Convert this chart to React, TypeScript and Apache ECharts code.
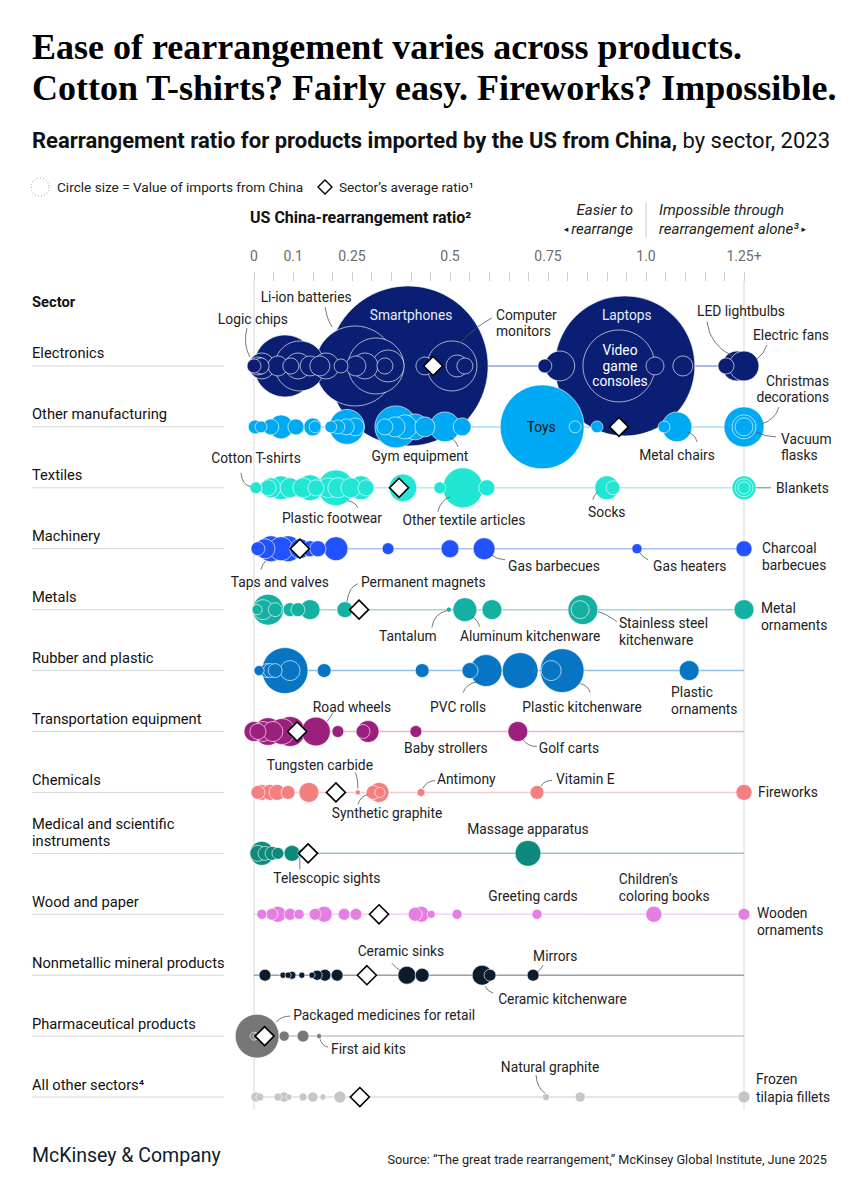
import React, { useEffect, useRef } from "react";
import * as echarts from "echarts";

// ---------- DATA ----------
type Bubble = [number, number, string?]; // [rearrangement ratio, imports from China ($B), product]

const sectors = [
  "Electronics",
  "Other manufacturing",
  "Textiles",
  "Machinery",
  "Metals",
  "Rubber and plastic",
  "Transportation equipment",
  "Chemicals",
  "Medical and scientific instruments",
  "Wood and paper",
  "Nonmetallic mineral products",
  "Pharmaceutical products",
  "All other sectors⁴",
];
const sectorDisplay = [
  "Electronics",
  "Other manufacturing",
  "Textiles",
  "Machinery",
  "Metals",
  "Rubber and plastic",
  "Transportation equipment",
  "Chemicals",
  "Medical and scientific\ninstruments",
  "Wood and paper",
  "Nonmetallic mineral products",
  "Pharmaceutical products",
  "All other sectors⁴",
];

const averageRatio: (number | null)[] = [0.457, 0.931, 0.37, 0.117, 0.268, null, 0.11, 0.209, 0.138, 0.319, 0.288, 0.027, 0.27];

const electronics: Bubble[] = [
  [0.0, 0.3], [0.01, 0.5, "Logic chips"], [0.018, 0.4], [0.02, 1.05], [0.061, 0.62], [0.079, 6.0], [0.094, 0.4],
  [0.112, 1.05], [0.117, 3.9], [0.143, 0.62], [0.168, 0.62], [0.184, 1.05], [0.222, 0.3], [0.258, 10, "Li-ion batteries"],
  [0.26, 0.62], [0.283, 1.05], [0.311, 4.9], [0.334, 0.4], [0.342, 1.6], [0.393, 40, "Smartphones"], [0.436, 0.5],
  [0.505, 3.9, "Computer\nmonitors"], [0.518, 0.75], [0.538, 0.4], [0.742, 0.3], [0.78, 1.4], [0.946, 30.6, "Laptops"],
  [0.931, 8.1, "Video\ngame\nconsoles"], [1.023, 0.5], [1.094, 0.62], [1.204, 0.4, "LED lightbulbs"], [1.232, 1.4],
  [1.25, 1.4, "Electric fans"],
];
const otherManufacturing: Bubble[] = [
  [0.003, 0.3], [0.018, 0.22], [0.043, 0.4], [0.069, 0.9], [0.107, 0.4], [0.15, 0.5], [0.156, 0.22], [0.196, 0.22],
  [0.214, 0.3], [0.235, 0.4], [0.237, 1.9], [0.258, 0.5], [0.334, 0.4], [0.36, 0.62], [0.362, 2.75], [0.385, 0.9],
  [0.411, 1.05], [0.436, 0.62], [0.487, 1.4, "Gym equipment"], [0.531, 0.5], [0.735, 11, "Toys"], [0.819, 0.22],
  [0.875, 0.22], [1.046, 0.22], [1.079, 1.4, "Metal chairs"], [1.25, 2.5, "Christmas\ndecorations"],
  [1.25, 0.9, "Vacuum\nflasks"], [1.25, 0.5],
];
const textiles: Bubble[] = [
  [0.005, 0.22, "Cotton T-shirts"], [0.036, 0.4], [0.043, 0.62], [0.069, 0.9], [0.092, 0.62], [0.125, 0.62], [0.143, 1.05],
  [0.158, 0.4], [0.189, 0.62], [0.209, 2.0, "Plastic footwear"], [0.214, 0.62], [0.247, 0.62], [0.273, 0.9], [0.286, 0.4],
  [0.38, 1.2], [0.474, 0.22], [0.533, 2.5, "Other textile articles"], [0.594, 0.4], [0.9, 0.9, "Socks"], [0.916, 0.3],
  [1.25, 0.9, "Blankets"], [1.25, 0.5], [1.25, 0.22],
];
const machinery: Bubble[] = [
  [0.01, 0.3], [0.028, 0.62], [0.043, 1.05, "Taps and valves"], [0.069, 0.9], [0.087, 1.05], [0.117, 0.62], [0.143, 0.4],
  [0.163, 0.4], [0.209, 0.9], [0.342, 0.22], [0.5, 0.5], [0.587, 0.75, "Gas barbecues"], [0.977, 0.16, "Gas heaters"],
  [1.25, 0.4, "Charcoal\nbarbecues"],
];
const metals: Bubble[] = [
  [0.008, 0.16], [0.023, 0.62], [0.036, 1.5], [0.054, 0.3], [0.092, 0.3], [0.112, 0.3], [0.143, 0.62],
  [0.232, 0.4, "Permanent magnets"], [0.497, 0.04, "Tantalum"], [0.538, 0.9, "Aluminum kitchenware"], [0.607, 0.62],
  [0.839, 1.4, "Stainless steel\nkitchenware"], [0.832, 0.5], [1.25, 0.62, "Metal\nornaments"],
];
const rubberPlastic: Bubble[] = [
  [0.013, 0.16], [0.033, 0.3], [0.041, 0.3], [0.054, 0.3], [0.079, 3.3], [0.092, 0.62], [0.179, 0.3], [0.429, 0.3],
  [0.551, 0.4], [0.592, 1.6, "PVC rolls"], [0.679, 2.0], [0.786, 3.0, "Plastic kitchenware"], [0.758, 0.62],
  [1.11, 0.62, "Plastic\nornaments"],
];
const transportation: Bubble[] = [
  [0.0, 0.62], [0.01, 0.4], [0.023, 0.62], [0.036, 1.2], [0.048, 0.62], [0.071, 1.05], [0.092, 1.4],
  [0.158, 1.3, "Road wheels"], [0.214, 0.22], [0.291, 0.75], [0.278, 0.3], [0.413, 0.22, "Baby strollers"],
  [0.673, 0.62, "Golf carts"],
];
const chemicals: Bubble[] = [
  [0.01, 0.3], [0.02, 0.4], [0.041, 0.4], [0.059, 0.4], [0.087, 0.3], [0.14, 0.62], [0.265, 0.04, "Tungsten carbide"],
  [0.304, 0.3], [0.319, 0.62, "Synthetic graphite"], [0.321, 0.16], [0.426, 0.1, "Antimony"], [0.722, 0.3, "Vitamin E"],
  [1.25, 0.4, "Fireworks"],
];
const medical: Bubble[] = [
  [0.01, 0.4], [0.02, 0.9], [0.028, 0.3], [0.046, 0.3], [0.061, 0.22], [0.097, 0.4], [0.122, 0.1, "Telescopic sights"],
  [0.699, 1.05, "Massage apparatus"],
];
const woodPaper: Bubble[] = [
  [0.02, 0.16], [0.046, 0.22], [0.061, 0.4], [0.092, 0.22], [0.115, 0.16], [0.156, 0.22], [0.179, 0.4], [0.23, 0.22],
  [0.26, 0.22], [0.411, 0.3], [0.426, 0.4], [0.452, 0.1], [0.518, 0.16], [0.722, 0.16, "Greeting cards"],
  [1.02, 0.4, "Children’s\ncoloring books"], [1.25, 0.22, "Wooden\nornaments"],
];
const nonmetallic: Bubble[] = [
  [0.028, 0.22], [0.074, 0.06], [0.087, 0.06], [0.097, 0.1], [0.122, 0.06], [0.148, 0.06], [0.161, 0.16], [0.181, 0.22],
  [0.212, 0.22], [0.39, 0.5, "Ceramic sinks"], [0.429, 0.3], [0.582, 0.62, "Ceramic kitchenware"], [0.602, 0.22],
  [0.712, 0.22, "Mirrors"],
];
const pharmaceutical: Bubble[] = [
  [0.008, 3.0, "Packaged medicines for retail"], [0.0, 0.1], [0.005, 0.06], [0.077, 0.16], [0.125, 0.22],
  [0.166, 0.04, "First aid kits"],
];
const allOther: Bubble[] = [
  [0.005, 0.16], [0.015, 0.1], [0.061, 0.1], [0.077, 0.16], [0.089, 0.06], [0.125, 0.1], [0.15, 0.16], [0.176, 0.06],
  [0.219, 0.22], [0.745, 0.08, "Natural graphite"], [0.832, 0.16], [1.25, 0.22, "Frozen\ntilapia fillets"],
];

const sectorBubbles = [
  electronics, otherManufacturing, textiles, machinery, metals, rubberPlastic, transportation,
  chemicals, medical, woodPaper, nonmetallic, pharmaceutical, allOther,
];

const tickValues = [0, 0.1, 0.25, 0.5, 0.75, 1, 1.25];
const tickLabels = ["0", "0.1", "0.25", "0.5", "0.75", "1.0", "1.25+"];

// ---------- STYLE / LAYOUT ----------
const F = "Roboto, 'Noto Sans', sans-serif";
const SERIF = "'Liberation Serif', 'DejaVu Serif', serif";
const K = 12.65; // radius px per sqrt($B)
const ANN_FONT = `13.8px ${F}`;

const COLORS = [
  "#0a1e73", "#00a9f4", "#22e6d4", "#2251ff", "#14b1a3", "#0775c4", "#9b1f7c",
  "#f28080", "#0d8a7d", "#e47ee2", "#0b1c2c", "#777777", "#c6c6c6",
];
const LINE_COLORS = [
  "#95a1d8", "#a3ddf8", "#a6f0e9", "#aebdff", "#98dcd5", "#93bfe3", "#e2b6d6",
  "#f8cccc", "#8ec8c0", "#f6cef4", "#97a0aa", "#c4c4c4", "#dedede",
];

type Ann = { dx: number; dy: number; align: "left" | "center" | "right"; color?: string; lh?: number; leader?: number[] };
const annLayout: Record<string, Ann> = {
  "Logic chips": { dx: -5, dy: -47, align: "center", leader: [-11, -38, -15, -21, -8, -9] },
  "Li-ion batteries": { dx: -49, dy: -69, align: "center", leader: [-30, -59, -28, -46, -23, -39] },
  Smartphones: { dx: 3, dy: -51, align: "center", color: "#e8ecf8" },
  "Computer\nmonitors": { dx: 44, dy: -43, align: "left", lh: 15.5, leader: [40, -48, 23, -39, 8, -23] },
  Laptops: { dx: 2, dy: -51, align: "center", color: "#e8ecf8" },
  "Video\ngame\nconsoles": { dx: 1, dy: 0, align: "center", color: "#ffffff", lh: 15.5 },
  "LED lightbulbs": { dx: 15, dy: -55, align: "center", leader: [-19, -44, -16, -21, 6, -10] },
  "Electric fans": { dx: 9, dy: -31, align: "left", leader: [23, -21, 20, -12, 13, -7] },
  Toys: { dx: -1, dy: 0, align: "center", color: "#111" },
  "Gym equipment": { dx: -25, dy: 29, align: "center", leader: [13, 20, 11, 13, 4, 10] },
  "Metal chairs": { dx: 0, dy: 28, align: "center", leader: [20, 15, 18, 7, 10, 5] },
  "Christmas\ndecorations": { dx: 85, dy: -38, align: "right", leader: [35, -20, 31, -7, 18, -3] },
  "Vacuum\nflasks": { dx: 37, dy: 20, align: "left", leader: [32, 10, 21, 10, 12, 5] },
  "Cotton T-shirts": { dx: 0, dy: -30, align: "center", leader: [-15, -15, -14, -3, -5, -1] },
  "Plastic footwear": { dx: -4, dy: 30, align: "center", leader: [22, 20, 19, 14, 12, 13] },
  "Other textile articles": { dx: 1, dy: 32, align: "center", leader: [-25, 24, -23, 13, -13, 9] },
  Socks: { dx: 0, dy: 24, align: "center", leader: [-14, 12, -13, 7, -9, 4] },
  Blankets: { dx: 32, dy: 0, align: "left", leader: [27, 0, 12, 0] },
  "Taps and valves": { dx: 9, dy: 33, align: "center", leader: [-10, 21, -9, 16, -5, 12] },
  "Gas barbecues": { dx: 24, dy: 17, align: "left", leader: [21, 11, 13, 11, 7, 6] },
  "Gas heaters": { dx: 16, dy: 17, align: "left", leader: [11, 11, 6, 9, 3, 4] },
  "Charcoal\nbarbecues": { dx: 18, dy: 8, align: "left" },
  "Permanent magnets": { dx: 16, dy: -28, align: "left", leader: [13, -26, 4, -23, 2, -8] },
  Tantalum: { dx: -41, dy: 26, align: "center", leader: [-17, 18, -15, 4, -2, 1] },
  "Aluminum kitchenware": { dx: -5, dy: 26, align: "left", leader: [15, 17, 13, 10, 7, 7] },
  "Stainless steel\nkitchenware": { dx: 36, dy: 22, align: "left", leader: [34, 12, 23, 4, 15, 2] },
  "Metal\nornaments": { dx: 17, dy: 7, align: "left" },
  "PVC rolls": { dx: -28, dy: 36, align: "center", leader: [-23, 22, -20, 13, -8, 11] },
  "Plastic kitchenware": { dx: 20, dy: 36, align: "center", leader: [28, 22, 26, 15, 18, 13] },
  "Plastic\nornaments": { dx: -18, dy: 30, align: "left" },
  "Road wheels": { dx: 36, dy: -25, align: "center", leader: [17, -19, 15, -14, 11, -10] },
  "Baby strollers": { dx: 30, dy: 16, align: "center" },
  "Golf carts": { dx: 21, dy: 16, align: "left", leader: [19, 15, 10, 15, 5, 8] },
  "Tungsten carbide": { dx: -38, dy: -27, align: "center", leader: [-3, -20, 0, -16, 0, -4] },
  "Synthetic graphite": { dx: 8, dy: 21, align: "center", leader: [-21, 12, -19, 4, -11, 2] },
  Antimony: { dx: 16, dy: -13, align: "left", leader: [14, -12, 5, -11, 2, -4] },
  "Vitamin E": { dx: 19, dy: -13, align: "left", leader: [15, -12, 7, -12, 4, -6] },
  Fireworks: { dx: 14, dy: 0, align: "left" },
  "Massage apparatus": { dx: 0, dy: -24, align: "center" },
  "Telescopic sights": { dx: 25, dy: 25, align: "center", leader: [-2, 16, -2, 4] },
  "Greeting cards": { dx: -4, dy: -18, align: "center" },
  "Children’s\ncoloring books": { dx: -35, dy: -27, align: "left" },
  "Wooden\nornaments": { dx: 13, dy: 7, align: "left" },
  "Ceramic sinks": { dx: -6, dy: -24, align: "center", leader: [-15, -12, -12, -8, -7, -5] },
  Mirrors: { dx: 0, dy: -19, align: "left", leader: [10, -10, 8, -6, 4, -3] },
  "Ceramic kitchenware": { dx: 16, dy: 24, align: "left", leader: [11, 18, 5, 16, 3, 11] },
  "Packaged medicines for retail": { dx: 36, dy: -21, align: "left", leader: [33, -20, 24, -20, 19, -14] },
  "First aid kits": { dx: 12, dy: 13, align: "left", leader: [9, 11, 3, 10, 1, 3] },
  "Natural graphite": { dx: 4, dy: -30, align: "center", leader: [-10, -22, -9, -9, -1, -4] },
  "Frozen\ntilapia fillets": { dx: 12, dy: -9, align: "left", lh: 18 },
};

function tickLabel(v: number): string {
  const r = Math.round(v * 1000) / 1000;
  const idx = tickValues.findIndex((t) => Math.abs(t - r) < 1e-6);
  return idx >= 0 ? tickLabels[idx] : "";
}

export default function App() {
  const ref = useRef<HTMLDivElement>(null);

  useEffect(() => {
    document.body.style.margin = "0";
    const chart = echarts.init(ref.current!, undefined, { renderer: "svg" });

    const series: any[] = [];
    sectors.forEach((_, i) => {
      series.push({
        type: "line",
        xAxisIndex: 0,
        yAxisIndex: 0,
        data: [[0, i], [1.25, i]],
        symbol: "none",
        silent: true,
        lineStyle: { color: LINE_COLORS[i], width: 1.5 },
        z: 1,
      });
    });
    sectorBubbles.forEach((arr, i) => {
      const sorted = [...arr].sort((a, b) => b[1] - a[1]);
      series.push({
        type: "scatter",
        xAxisIndex: 0,
        yAxisIndex: 0,
        silent: true,
        data: sorted.map((b) => ({ value: [b[0], i, b[1]], name: b[2] || "" })),
        symbolSize: (v: number[]) => 2 * K * Math.sqrt(v[2]),
        itemStyle: { color: COLORS[i], borderColor: "rgba(255,255,255,0.8)", borderWidth: 0.8, opacity: 1 },
        z: 2,
      });
    });
    series.push({
      type: "scatter",
      xAxisIndex: 0,
      yAxisIndex: 0,
      silent: true,
      symbol: "diamond",
      symbolSize: [19, 19],
      data: averageRatio.map((v, i) => (v == null ? null : [v, i])).filter((d) => d != null),
      itemStyle: { color: "#ffffff", borderColor: "#000000", borderWidth: 1.6, opacity: 1 },
      z: 4,
    });

    chart.setOption({
      animation: false,
      grid: [
        { left: 254, width: 490, top: 335.5, height: 792 },
        { left: 254, width: 490, top: 280, height: 1 },
      ],
      xAxis: [
        { type: "value", gridIndex: 0, min: 0, max: 1.25, show: false },
        {
          type: "value",
          gridIndex: 1,
          min: 0,
          max: 1.25,
          interval: 0.05,
          position: "top",
          axisLine: { show: false },
          axisTick: { show: true, length: 9, lineStyle: { color: "#cccccc", width: 1 } },
          splitLine: { show: false },
          axisLabel: {
            show: true,
            margin: 17,
            color: "#6b6b6b",
            fontSize: 14,
            fontFamily: F,
            formatter: (v: number) => tickLabel(v),
            showMinLabel: true,
            showMaxLabel: true,
          },
        },
      ],
      yAxis: [
        { type: "category", gridIndex: 0, data: sectors, inverse: true, show: false },
        { type: "value", gridIndex: 1, show: false },
      ],
      series,
    });

    const px = (x: number, row: number) => chart.convertToPixel({ gridIndex: 0 }, [x, row]) as number[];
    const g: any[] = [];
    const txt = (x: number, y: number, text: string, font: string, fill = "#222", align = "left", extra: any = {}) =>
      g.push({ type: "text", x, y, z: 100, style: { text, font, fill, align, verticalAlign: "middle", ...extra } });

    // Titles
    txt(32, 47, "Ease of rearrangement varies across products.", `bold 36px ${SERIF}`, "#000");
    txt(32, 88, "Cotton T-shirts? Fairly easy. Fireworks? Impossible.", `bold 36px ${SERIF}`, "#000");
    g.push({
      type: "text",
      x: 32,
      y: 140,
      z: 100,
      style: {
        text: "{b|Rearrangement ratio for products imported by the US from China,}{r| by sector, 2023}",
        verticalAlign: "middle",
        rich: {
          b: { fontWeight: "bold", fontSize: 22, fontFamily: F, fill: "#111" },
          r: { fontWeight: "normal", fontSize: 22, fontFamily: F, fill: "#111" },
        },
      },
    });

    // Legend
    g.push({ type: "circle", z: 100, shape: { cx: 40, cy: 187, r: 9 }, style: { fill: "none", stroke: "#9a9a9a", lineWidth: 1, lineDash: [1, 2] } });
    txt(57, 187, "Circle size = Value of imports from China", `13.6px ${F}`);
    g.push({ type: "polygon", z: 100, shape: { points: [[325, 180], [332, 187], [325, 194], [318, 187]] }, style: { fill: "#fff", stroke: "#000", lineWidth: 1.4 } });
    txt(339, 187, "Sector’s average ratio¹", `13.6px ${F}`);

    // Axis header
    txt(250, 217, "US China-rearrangement ratio²", `bold 16px ${F}`, "#111");
    const x1 = chart.convertToPixel({ xAxisIndex: 1 }, 1) as unknown as number;
    txt(x1 - 13, 210, "Easier to", `italic 15px ${F}`, "#222", "right");
    g.push({
      type: "text", x: x1 - 13, y: 229, z: 100,
      style: {
        text: "{a|◂ }{t|rearrange}", align: "right", verticalAlign: "middle",
        rich: { a: { fontSize: 9, fontFamily: "DejaVu Sans", fill: "#222" }, t: { fontStyle: "italic", fontSize: 15, fontFamily: F, fill: "#222" } },
      },
    });
    g.push({ type: "line", z: 100, shape: { x1: x1, y1: 202, x2: x1, y2: 238 }, style: { stroke: "#cccccc", lineWidth: 1 } });
    txt(x1 + 13, 210, "Impossible through", `italic 15px ${F}`);
    g.push({
      type: "text", x: x1 + 13, y: 229, z: 100,
      style: {
        text: "{t|rearrangement alone³}{a| ▸}", align: "left", verticalAlign: "middle",
        rich: { a: { fontSize: 9, fontFamily: "DejaVu Sans", fill: "#222" }, t: { fontStyle: "italic", fontSize: 15, fontFamily: F, fill: "#222" } },
      },
    });

    // Vertical guide lines at 0 and 1.25
    [0, 1.25].forEach((v) => {
      const p0 = px(v, 0);
      g.push({ type: "line", z: 0, shape: { x1: p0[0], y1: 281, x2: p0[0], y2: 1110 }, style: { stroke: "#dddddd", lineWidth: 1.2 } });
    });

    // Sector column
    txt(32, 302, "Sector", `bold 14.7px ${F}`, "#111");
    sectorDisplay.forEach((s, i) => {
      const y = px(0, i)[1];
      g.push({ type: "line", z: 100, shape: { x1: 32, y1: y, x2: 224, y2: y }, style: { stroke: "#d6d6d6", lineWidth: 1 } });
      g.push({
        type: "text", x: 32, y: y - 4, z: 100,
        style: { text: s, font: `14.7px ${F}`, fill: "#111", align: "left", verticalAlign: "bottom", lineHeight: 17 },
      });
    });

    // Annotations
    sectorBubbles.forEach((arr, i) => {
      arr.forEach((b) => {
        const name = b[2];
        if (!name) return;
        const a = annLayout[name];
        if (!a) return;
        const [cx, cy] = px(b[0], i);
        g.push({
          type: "text", x: cx + a.dx, y: cy + a.dy, z: 110,
          style: { text: name, font: ANN_FONT, fill: a.color || "#222", align: a.align, verticalAlign: "middle", lineHeight: a.lh || 16.5 },
        });
        const L = a.leader;
        if (L && L.length === 6) {
          g.push({
            type: "bezierCurve", z: 105,
            shape: { x1: cx + L[0], y1: cy + L[1], cpx1: cx + L[2], cpy1: cy + L[3], x2: cx + L[4], y2: cy + L[5] },
            style: { stroke: "#555", lineWidth: 0.8, fill: "none" },
          });
        } else if (L && L.length === 4) {
          g.push({
            type: "line", z: 105,
            shape: { x1: cx + L[0], y1: cy + L[1], x2: cx + L[2], y2: cy + L[3] },
            style: { stroke: "#555", lineWidth: 0.8 },
          });
        }
      });
    });

    // Footer
    txt(32, 1155, "McKinsey & Company", `19.5px ${F}`, "#0b1c2c");
    txt(827, 1159, "Source: “The great trade rearrangement,” McKinsey Global Institute, June 2025", `12.7px ${F}`, "#222", "right");

    chart.setOption({ graphic: { elements: g } });

    return () => chart.dispose();
  }, []);

  return <div ref={ref} style={{ position: "absolute", left: 0, top: 0, width: 863, height: 1199 }} />;
}
